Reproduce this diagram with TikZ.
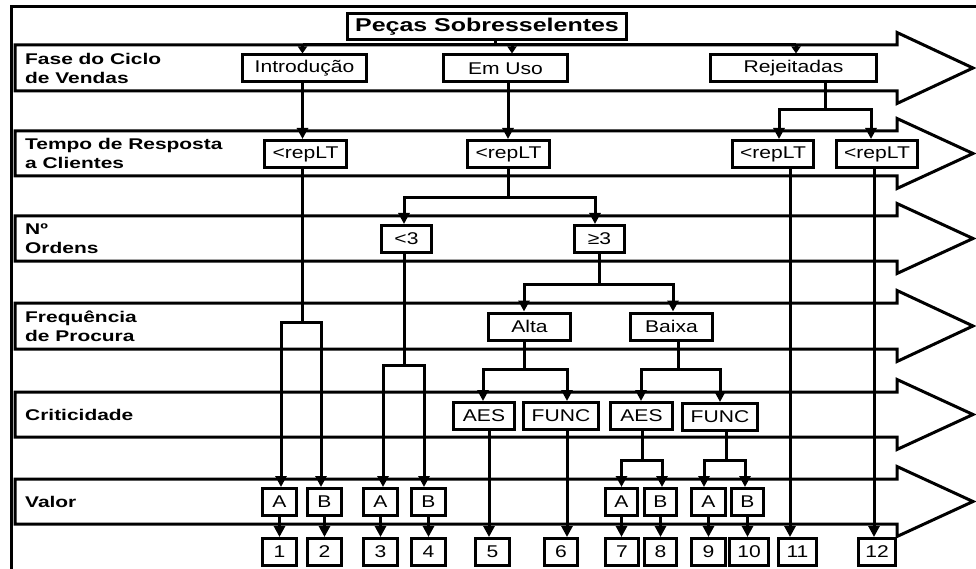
\documentclass[tikz,border=0pt]{standalone}
\usepackage{fontspec}
\setmainfont{Liberation Sans}[FakeStretch=1.35]
\newfontfamily\boxfont{Liberation Sans}[FakeStretch=1.24]
\usetikzlibrary{arrows.meta,calc}
\newcommand\mylane[2]{\draw[lane] (15,#1) -- (897,#1) -- (897,#1-12.5) -- (973,{(#1+#2)/2}) -- (897,#2+12.5) -- (897,#2) -- (15,#2) -- cycle;}
\begin{document}
\begin{tikzpicture}[x=1pt,y=-1pt,
  lane/.style={draw, line width=3pt, line join=miter},
  bx/.style={draw, line width=3pt, fill=white, inner sep=0pt, minimum height=27pt, font=\fontsize{17}{19}\boxfont},
  lbl/.style={anchor=west, align=left, inner sep=0pt, font=\fontsize{15.5}{19}\selectfont\bfseries},
  arr/.style={line width=3pt, -{Triangle[width=11pt,length=11pt]}},
  sarr/.style={line width=3pt, -{Triangle[width=9pt,length=7pt]}},
  ln/.style={line width=3pt}
]
\useasboundingbox (0,0) rectangle (976,569);
% frame
\draw[ln] (11,569) -- (11,7) -- (976,7);
% lanes
\mylane{45}{91}
\mylane{131}{176}
\mylane{216}{261}
\mylane{303}{349}
\mylane{392}{437}
\mylane{479}{524}
% lane labels
\node[lbl] (l1) at (25,68) {Fase do Ciclo\\de Vendas};
\node[lbl] (l2) at (25,153.5) {Tempo de Resposta\\a Clientes};
\node[lbl] (l3) at (25,238.5) {Nº\\Ordens};
\node[lbl] (l4) at (25,326) {Frequência\\de Procura};
\node[lbl] (l5) at (25,414.5) {Criticidade};
\node[lbl] (l6) at (25,501.5) {Valor};
% boxes
\node[bx, minimum width=279pt, minimum height=26pt, font=\fontsize{18.5}{20}\selectfont\bfseries] (title) at (487,26.5) {Peças Sobresselentes};
\node[bx, minimum width=124pt] (intro) at (304.5,68.5) {Introdução};
\node[bx, minimum width=124pt] (emuso) at (505.5,68.5) {Em Uso};
\node[bx, minimum width=166pt] (rej) at (793.5,68.5) {Rejeitadas};
\node[bx, minimum width=82pt] (rep1) at (305.5,154) {<repLT};
\node[bx, minimum width=82pt] (rep2) at (508.5,154) {<repLT};
\node[bx, minimum width=81pt] (rep3) at (773,154) {<repLT};
\node[bx, minimum width=81pt] (rep4) at (877,154) {<repLT};
\node[bx, minimum width=50pt] (lt) at (406.5,239) {<3};
\node[bx, minimum width=50pt] (ge) at (599.5,239) {≥3};
\node[bx, minimum width=82pt] (alta) at (529.5,326.5) {Alta};
\node[bx, minimum width=82pt] (baixa) at (671.5,326.5) {Baixa};
\node[bx, minimum width=61pt] (aes1) at (484,416) {AES};
\node[bx, minimum width=75pt] (func1) at (561,416) {FUNC};
\node[bx, minimum width=62pt] (aes2) at (641.5,416) {AES};
\node[bx, minimum width=75pt] (func2) at (720,417) {FUNC};
\node[bx, minimum width=34pt] (a1) at (279.5,502) {A};
\node[bx, minimum width=34pt] (b1) at (324.5,502) {B};
\node[bx, minimum width=34pt] (a2) at (380.5,502) {A};
\node[bx, minimum width=34pt] (b2) at (428.5,502) {B};
\node[bx, minimum width=32pt] (a3) at (621.5,502) {A};
\node[bx, minimum width=32pt] (b3) at (660.5,502) {B};
\node[bx, minimum width=34pt] (a4) at (708.5,502) {A};
\node[bx, minimum width=32pt] (b4) at (747.5,502) {B};
\node[bx, minimum width=34pt] (n1) at (279.5,552) {1};
\node[bx, minimum width=34pt] (n2) at (324.5,552) {2};
\node[bx, minimum width=34pt] (n3) at (380.5,552) {3};
\node[bx, minimum width=34pt] (n4) at (428.5,552) {4};
\node[bx, minimum width=34pt] (n5) at (492.5,552) {5};
\node[bx, minimum width=33pt] (n6) at (561,552) {6};
\node[bx, minimum width=33pt] (n7) at (622,552) {7};
\node[bx, minimum width=32pt] (n8) at (660.5,552) {8};
\node[bx, minimum width=34pt] (n9) at (708.5,552) {9};
\node[bx, minimum width=39pt] (n10) at (749,552) {10};
\node[bx, minimum width=38pt] (n11) at (797.5,552) {11};
\node[bx, minimum width=37pt] (n12) at (877,552) {12};
% title tree
\coordinate (t0) at (495,45);
\coordinate (i0) at ([xshift=-2pt]intro.north);
\coordinate (e1) at ([xshift=6.5pt]emuso.north);
\coordinate (rj) at ([xshift=2.5pt]rej.north);
\draw[ln] (title.south -| t0) -- (t0);
\draw[ln] (i0 |- t0) -- (rj |- t0);
\draw[sarr] (i0 |- t0) -- (i0);
\draw[sarr] (e1 |- t0) -- (e1);
\draw[sarr] (rj |- t0) -- (rj);
% rej tree
\coordinate (r0) at (825,110);
\coordinate (r3) at ([xshift=6pt]rep3.north);
\coordinate (r4) at ([xshift=-6pt]rep4.north);
\draw[ln] (rej.south -| r0) -- (r0);
\draw[arr] (r0) -| (r3);
\draw[arr] (r0) -| (r4);
% intro, em uso
\coordinate (i1) at ([xshift=-3pt]rep1.north);
\draw[arr] (intro.south -| i1) -- (i1);
\coordinate (e2) at ([xshift=-0.5pt]rep2.north);
\draw[arr] (emuso.south -| e2) -- (e2);
% rep1 -> a1/b1
\coordinate (j1) at (302.5,322);
\coordinate (pa1) at ([xshift=1.5pt]a1.north);
\coordinate (pb1) at ([xshift=-3.5pt]b1.north);
\draw[ln] (rep1.south -| j1) -- (j1);
\draw[arr] (j1) -| (pa1);
\draw[arr] (j1) -| (pb1);
% rep2 -> lt/ge
\coordinate (j2) at (508,198);
\coordinate (plt) at ([xshift=-2.5pt]lt.north);
\coordinate (pge) at ([xshift=-4.5pt]ge.north);
\draw[ln] (rep2.south -| j2) -- (j2);
\draw[arr] (j2) -| (plt);
\draw[arr] (j2) -| (pge);
% rep3, rep4
\coordinate (p11) at ([xshift=-7.5pt]n11.north);
\draw[arr] (rep3.south -| p11) -- (p11);
\coordinate (p12) at ([xshift=-3pt]n12.north);
\draw[arr] (rep4.south -| p12) -- (p12);
% lt -> a2/b2
\coordinate (j3) at (404,365);
\coordinate (pa2) at ([xshift=2.5pt]a2.north);
\coordinate (pb2) at ([xshift=-4.5pt]b2.north);
\draw[ln] (lt.south -| j3) -- (j3);
\draw[arr] (j3) -| (pa2);
\draw[arr] (j3) -| (pb2);
% ge -> alta/baixa
\coordinate (j4) at (599,284);
\coordinate (pal) at ([xshift=-5.5pt]alta.north);
\coordinate (pba) at ([xshift=1.5pt]baixa.north);
\draw[ln] (ge.south -| j4) -- (j4);
\draw[arr] (j4) -| (pal);
\draw[arr] (j4) -| (pba);
% alta -> aes1/func1
\coordinate (j5) at (524,369);
\coordinate (pae1) at ([xshift=-1pt]aes1.north);
\coordinate (pfu1) at ([xshift=6pt]func1.north);
\draw[ln] (alta.south -| j5) -- (j5);
\draw[arr] (j5) -| (pae1);
\draw[arr] (j5) -| (pfu1);
% baixa -> aes2/func2
\coordinate (j6) at (678,369);
\coordinate (pae2) at ([xshift=-0.5pt]aes2.north);
\coordinate (pfu2) at (func2.north);
\draw[ln] (baixa.south -| j6) -- (j6);
\draw[arr] (j6) -| (pae2);
\draw[arr] (j6) -| (pfu2);
% aes1, func1
\coordinate (p5) at ([xshift=-3.5pt]n5.north);
\draw[arr] (aes1.south -| p5) -- (p5);
\coordinate (p6) at ([xshift=6pt]n6.north);
\draw[arr] (func1.south -| p6) -- (p6);
% aes2 -> a3/b3
\coordinate (j7) at (642,460);
\coordinate (pa3) at (a3.north);
\coordinate (pb3) at ([xshift=1.5pt]b3.north);
\draw[ln] (aes2.south -| j7) -- (j7);
\draw[arr] (j7) -| (pa3);
\draw[arr] (j7) -| (pb3);
% func2 -> a4/b4
\coordinate (j8) at (726,460);
\coordinate (pa4) at ([xshift=-4.5pt]a4.north);
\coordinate (pb4) at ([xshift=-2.5pt]b4.north);
\draw[ln] (func2.south -| j8) -- (j8);
\draw[arr] (j8) -| (pa4);
\draw[arr] (j8) -| (pb4);
% valor -> numbers
\draw[arr] (a1.south) -- (a1.south |- n1.north);
\draw[arr] (b1.south) -- (b1.south |- n2.north);
\draw[arr] (a2.south) -- (a2.south |- n3.north);
\draw[arr] (b2.south) -- (b2.south |- n4.north);
\draw[arr] (a3.south) -- (a3.south |- n7.north);
\draw[arr] (b3.south) -- (b3.south |- n8.north);
\draw[arr] (a4.south) -- (a4.south |- n9.north);
\draw[arr] (b4.south) -- (b4.south |- n10.north);
\end{tikzpicture}
\end{document}
